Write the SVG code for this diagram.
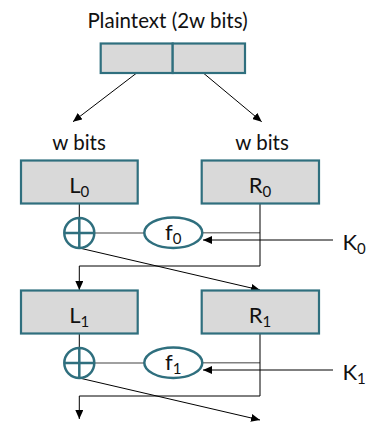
<svg xmlns="http://www.w3.org/2000/svg" width="373" height="422" viewBox="0 0 373 422">
<defs>
<style>
.box{fill:#d9d9d9;stroke:#2f6f7e;stroke-width:2.2}
.xor{fill:none;stroke:#2f6f7e;stroke-width:2.5}
.fn{fill:#ffffff;stroke:#2f6f7e;stroke-width:2.5}
.ln{fill:none;stroke:#000;stroke-width:1}
.gl{fill:none;stroke:#808080;stroke-width:1.6}
.t{font-family:Lato,"Open Sans","DejaVu Sans",sans-serif;fill:#111}
.big{font-size:22px}
.sub{font-size:15px}
.lab{font-size:20.5px}
</style>
<marker id="ah" markerWidth="9" markerHeight="8" refX="9" refY="4" orient="auto" markerUnits="userSpaceOnUse">
<path d="M0,0 L9,4 L0,8 Z" fill="#000"/>
</marker>
</defs>
<g id="connectors">
<line class="ln" x1="136.7" y1="73" x2="73" y2="121.7" marker-end="url(#ah)"/>
<line class="ln" x1="203.3" y1="73" x2="261.7" y2="121.7" marker-end="url(#ah)"/>
<line class="ln" x1="79.3" y1="203.5" x2="79.3" y2="218"/>
<line class="gl" x1="94.5" y1="233" x2="144" y2="233"/>
<line class="gl" x1="202.5" y1="232.7" x2="260" y2="232.7"/>
<line class="ln" x1="333" y1="240" x2="203" y2="240" marker-end="url(#ah)"/>
<polyline class="ln" points="260,203.5 260,266 79.3,266 79.3,290" marker-end="url(#ah)"/>
<line class="ln" x1="79.3" y1="248" x2="260" y2="290" marker-end="url(#ah)"/>
<line class="ln" x1="79.3" y1="333.5" x2="79.3" y2="348"/>
<line class="gl" x1="94.5" y1="363" x2="144" y2="363"/>
<line class="gl" x1="202.5" y1="362.7" x2="260" y2="362.7"/>
<line class="ln" x1="333" y1="370" x2="203" y2="370" marker-end="url(#ah)"/>
<polyline class="ln" points="260,333.5 260,396 79.3,396 79.3,419" marker-end="url(#ah)"/>
<line class="ln" x1="79.3" y1="378" x2="260" y2="420" marker-end="url(#ah)"/>
</g>
<g id="plaintext">
<text class="t lab" x="167.5" y="28" text-anchor="middle">Plaintext (2w bits)</text>
<rect class="box" x="100.7" y="43.5" width="72" height="29.5"/>
<rect class="box" x="172.7" y="43.5" width="72.3" height="29.5"/>
</g>
<g id="wbits-left"><text class="t lab" x="79" y="150" text-anchor="middle">w bits</text></g>
<g id="wbits-right"><text class="t lab" x="262" y="150" text-anchor="middle">w bits</text></g>
<g id="L0">
<rect class="box" x="21" y="160.5" width="116.7" height="43"/>
<text class="t" x="79.3" y="193" text-anchor="middle"><tspan class="big">L</tspan><tspan class="sub" dy="4">0</tspan></text>
</g>
<g id="R0">
<rect class="box" x="201.7" y="160.5" width="117.3" height="43"/>
<text class="t" x="260" y="193" text-anchor="middle"><tspan class="big">R</tspan><tspan class="sub" dy="4">0</tspan></text>
</g>
<g id="xor0">
<circle class="xor" cx="79.3" cy="233" r="15"/>
<line class="xor" x1="64.3" y1="233" x2="94.3" y2="233"/>
<line class="xor" x1="79.3" y1="218" x2="79.3" y2="248"/>
</g>
<g id="f0">
<ellipse class="fn" cx="173.3" cy="232.7" rx="29" ry="15.3"/>
<text class="t" x="173.3" y="240" text-anchor="middle"><tspan class="big">f</tspan><tspan class="sub" dy="4">0</tspan></text>
</g>
<g id="K0"><text class="t" x="342.5" y="249.5"><tspan class="big">K</tspan><tspan class="sub" dy="4">0</tspan></text></g>
<g id="L1">
<rect class="box" x="21" y="290.5" width="116.7" height="43"/>
<text class="t" x="79.3" y="323" text-anchor="middle"><tspan class="big">L</tspan><tspan class="sub" dy="4">1</tspan></text>
</g>
<g id="R1">
<rect class="box" x="201.7" y="290.5" width="117.3" height="43"/>
<text class="t" x="260" y="323" text-anchor="middle"><tspan class="big">R</tspan><tspan class="sub" dy="4">1</tspan></text>
</g>
<g id="xor1">
<circle class="xor" cx="79.3" cy="363" r="15"/>
<line class="xor" x1="64.3" y1="363" x2="94.3" y2="363"/>
<line class="xor" x1="79.3" y1="348" x2="79.3" y2="378"/>
</g>
<g id="f1">
<ellipse class="fn" cx="173.3" cy="362.7" rx="29" ry="15.3"/>
<text class="t" x="173.3" y="370" text-anchor="middle"><tspan class="big">f</tspan><tspan class="sub" dy="4">1</tspan></text>
</g>
<g id="K1"><text class="t" x="342.5" y="379.5"><tspan class="big">K</tspan><tspan class="sub" dy="4">1</tspan></text></g>
</svg>
